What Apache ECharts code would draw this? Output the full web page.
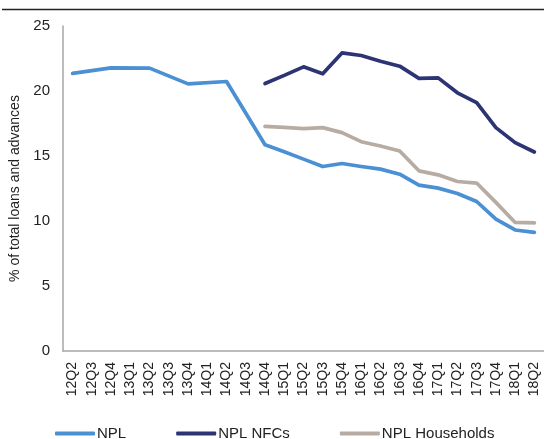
<!DOCTYPE html>
<html>
<head>
<meta charset="utf-8">
<script src="https://cdn.jsdelivr.net/npm/echarts@6/dist/echarts.min.js"></script>
<style>
  html, body { margin: 0; padding: 0; background: #fff; }
  #chart { width: 544px; height: 439px; }
</style>
</head>
<body>
<div id="chart"></div>
<script>
// quarters on the x axis
const quarters = [
  '12Q2', '12Q3', '12Q4', '13Q1', '13Q2', '13Q3', '13Q4', '14Q1', '14Q2', '14Q3',
  '14Q4', '15Q1', '15Q2', '15Q3', '15Q4', '16Q1', '16Q2', '16Q3', '16Q4',
  '17Q1', '17Q2', '17Q3', '17Q4', '18Q1', '18Q2'
]
// NPL ratio, semi-annual before 14Q4 (gaps joined by the line)
const npl = [
  21.35, null, 21.78, null, 21.76, null, 20.55, null, 20.73, null,
  15.87, 15.33, 14.76, 14.19, 14.42, 14.19, 13.99, 13.6, 12.76,
  12.53, 12.12, 11.5, 10.15, 9.31, 9.13
]
// NPL of non-financial corporations
const nplNfc = [
  null, null, null, null, null, null, null, null, null, null,
  20.58, 21.2, 21.86, 21.32, 22.93, 22.73, 22.29, 21.91, 20.97,
  21.01, 19.86, 19.1, 17.18, 16.03, 15.31
]
// NPL of households
const nplHh = [
  null, null, null, null, null, null, null, null, null, null,
  17.28, 17.2, 17.1, 17.18, 16.8, 16.1, 15.77, 15.39, 13.86,
  13.55, 13.04, 12.92, 11.43, 9.89, 9.85
]
const seriesNames = ['NPL', 'NPL NFCs', 'NPL Households']
const colors = ['#4b90d3', '#2c3474', '#b7aca4']

const font = 'Liberation Sans, Arial, sans-serif'
const chart = echarts.init(document.getElementById('chart'), null, { renderer: 'canvas' })

function lineSeries(name, data, color) {
  return {
    name: name,
    type: 'line',
    data: data,
    connectNulls: true,
    showSymbol: false,
    symbol: 'none',
    color: color,
    lineStyle: { width: 3.7, color: color, cap: 'round', join: 'round' }
  }
}

const option = {
  animation: false,
  backgroundColor: '#fff',
  textStyle: { fontFamily: font },
  grid: { left: 63, top: 26, width: 484, bottom: 88, containLabel: false },
  graphic: [
    {
      type: 'line',
      shape: { x1: 2, y1: 9.5, x2: 544, y2: 9.5 },
      style: { stroke: '#222', lineWidth: 1.5 }
    }
  ],
  xAxis: {
    type: 'category',
    data: quarters,
    boundaryGap: true,
    axisLine: { lineStyle: { color: '#a6a6a6', width: 1.5 } },
    axisTick: { show: false },
    axisLabel: {
      rotate: 90,
      interval: 0,
      color: '#222',
      fontSize: 14,
      fontFamily: font,
      margin: 11
    }
  },
  yAxis: {
    type: 'value',
    min: 0,
    max: 25,
    interval: 5,
    name: '% of total loans and advances',
    nameLocation: 'middle',
    nameGap: 37,
    nameTextStyle: { color: '#222', fontSize: 14, fontFamily: font },
    axisLine: { show: true, lineStyle: { color: '#a6a6a6', width: 1.5 } },
    axisTick: { show: false },
    splitLine: { show: false },
    axisLabel: { color: '#222', fontSize: 15, fontFamily: font, margin: 13 }
  },
  legend: {
    data: seriesNames,
    left: 50,
    top: 421,
    icon: 'roundRect',
    itemWidth: 40,
    itemHeight: 4,
    itemGap: 50,
    textStyle: { color: '#222', fontSize: 15, fontFamily: font, padding: [0, 0, 0, -3] }
  },
  series: [
    lineSeries(seriesNames[0], npl, colors[0]),
    lineSeries(seriesNames[1], nplNfc, colors[1]),
    lineSeries(seriesNames[2], nplHh, colors[2])
  ]
}

chart.setOption(option)
</script>
</body>
</html>
